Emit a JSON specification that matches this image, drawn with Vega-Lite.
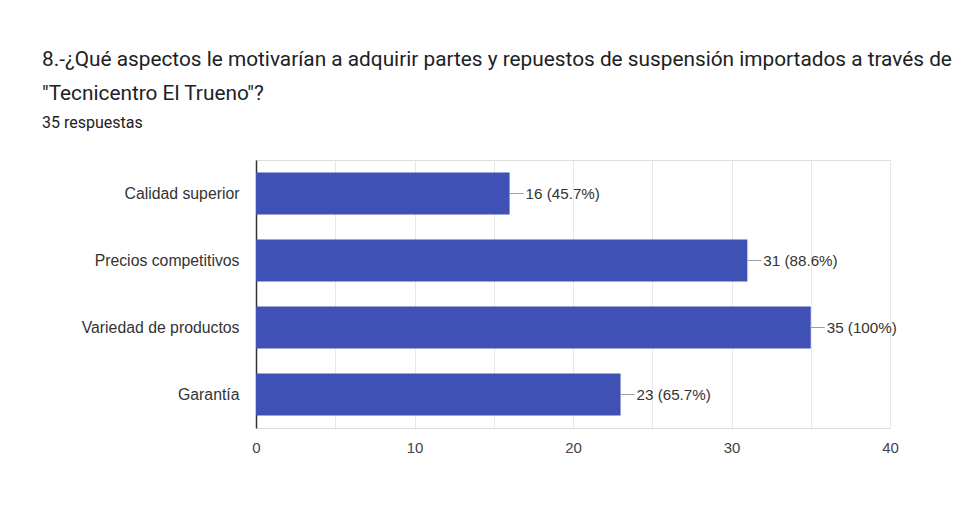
{
  "$schema": "https://vega.github.io/schema/vega-lite/v6.json",
  "width": 634,
  "height": 268,
  "autosize": {"type": "none"},
  "padding": {"left": 256, "top": 160, "right": 88, "bottom": 77},
  "background": "white",
  "title": {
    "text": ["8.-¿Qué aspectos le motivarían a adquirir partes y repuestos de suspensión importados a través de", "\"Tecnicentro El Trueno\"?"],
    "subtitle": "35 respuestas",
    "anchor": "start",
    "frame": "group",
    "dx": -214,
    "offset": 28,
    "font": "Roboto",
    "fontSize": 20.8,
    "fontWeight": "normal",
    "color": "#202124",
    "lineHeight": 34,
    "subtitleFont": "Roboto",
    "subtitleFontSize": 16,
    "subtitleFontWeight": "normal",
    "subtitleColor": "#202124",
    "subtitlePadding": 10
  },
  "data": {
    "values": [
      {"aspecto": "Calidad superior", "valor": 16, "etiqueta": "16 (45.7%)"},
      {"aspecto": "Precios competitivos", "valor": 31, "etiqueta": "31 (88.6%)"},
      {"aspecto": "Variedad de productos", "valor": 35, "etiqueta": "35 (100%)"},
      {"aspecto": "Garantía", "valor": 23, "etiqueta": "23 (65.7%)"}
    ]
  },
  "encoding": {
    "y": {
      "field": "aspecto",
      "type": "nominal",
      "sort": null,
      "title": null,
      "scale": {"paddingInner": 0.37, "paddingOuter": 0.185},
      "axis": {
        "ticks": false,
        "domain": true,
        "domainColor": "#333333",
        "domainWidth": 1.5,
        "labelFont": "Liberation Sans",
        "labelFontSize": 15.8,
        "labelColor": "#333333",
        "labelPadding": 17,
        "grid": false
      }
    }
  },
  "layer": [
    {
      "mark": {"type": "bar", "color": "#3f51b5"},
      "encoding": {
        "x": {
          "field": "valor",
          "type": "quantitative",
          "title": null,
          "scale": {"domain": [0, 40], "nice": false},
          "axis": {
            "values": [0, 5, 10, 15, 20, 25, 30, 35, 40],
            "labelExpr": "datum.value % 10 == 0 ? datum.label : ''",
            "labelFlush": false,
            "ticks": false,
            "domain": false,
            "grid": true,
            "gridColor": "#e8e8e8",
            "gridWidth": 1,
            "labelFont": "Liberation Sans",
            "labelFontSize": 15,
            "labelColor": "#444444",
            "labelPadding": 12
          }
        }
      }
    },
    {
      "mark": {"type": "rule", "color": "#9e9e9e", "strokeWidth": 1, "x2Offset": 14},
      "encoding": {
        "x": {"field": "valor", "type": "quantitative"},
        "x2": {"field": "valor"}
      }
    },
    {
      "mark": {"type": "text", "align": "left", "baseline": "middle", "dx": 16, "font": "Liberation Sans", "fontSize": 15.2, "color": "#333333"},
      "encoding": {
        "x": {"field": "valor", "type": "quantitative"},
        "text": {"field": "etiqueta"}
      }
    }
  ]
}
